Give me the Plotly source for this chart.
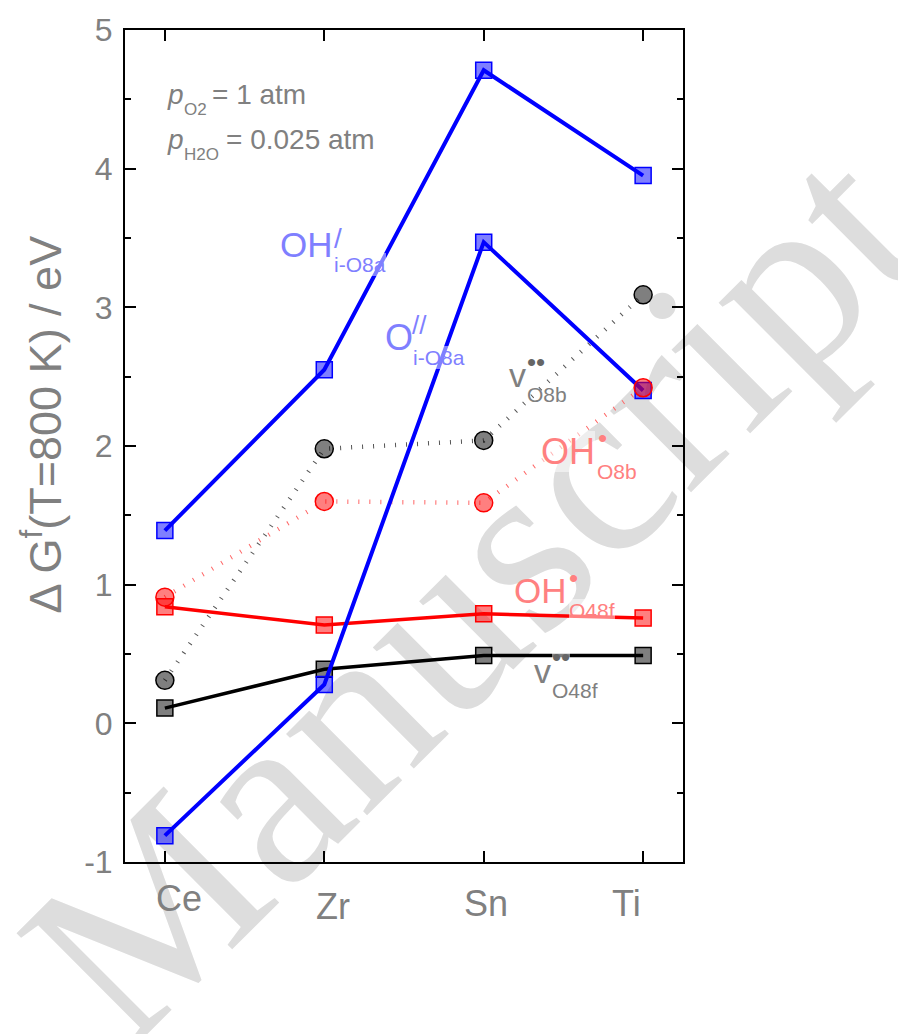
import plotly.graph_objects as go

# ---------------- data ----------------
categories = ["Ce", "Zr", "Sn", "Ti"]
x_pos = [0, 1, 2, 3]

OH_i_O8a = [1.39, 2.55, 4.71, 3.95]      # blue squares, solid
O_i_O8a = [-0.81, 0.28, 3.47, 2.40]      # blue squares, solid
v_O48f = [0.11, 0.39, 0.49, 0.49]        # grey squares, black solid
OH_O48f = [0.84, 0.71, 0.79, 0.76]       # red squares, red solid
v_O8b = [0.31, 1.98, 2.04, 3.09]         # grey circles, dotted
OH_O8b = [0.91, 1.60, 1.59, 2.42]        # red circles, dotted

y_ticks = [-1, 0, 1, 2, 3, 4, 5]
y_ticktext = ["-1", "0", "1", "2", "3", "4", "5"]

# ---------------- layout geometry ----------------
FW, FH = 898, 1034
ML, MR, MT, MB = 125, 215, 27, 172
PW, PH = FW - ML - MR, FH - MT - MB

GREY = "#808080"
BLUE_T = "#7F7FFF"
RED_T = "#FF8080"
SANS = "Liberation Sans, Arial, sans-serif"


def px_x(px):
    return (px - ML) / PW


def px_y(py):
    return (FH - MB - py) / PH


fig = go.Figure()

# dotted series (lines)
fig.add_trace(go.Scatter(
    x=x_pos, y=v_O8b, mode="lines",
    line=dict(color="#555555", width=4.5, dash="1px,10px"),
    showlegend=False, hoverinfo="skip"))
fig.add_trace(go.Scatter(
    x=x_pos, y=OH_O8b, mode="lines",
    line=dict(color="#FF6666", width=4.5, dash="1px,10px"),
    showlegend=False, hoverinfo="skip"))

# solid series
fig.add_trace(go.Scatter(
    x=x_pos, y=v_O48f, mode="lines+markers",
    line=dict(color="black", width=3.5),
    marker=dict(symbol="square", size=16, color="rgba(0,0,0,0.5)",
                line=dict(color="black", width=1.5)),
    showlegend=False))
fig.add_trace(go.Scatter(
    x=x_pos, y=OH_O48f, mode="lines+markers",
    line=dict(color="#FF0000", width=3.5),
    marker=dict(symbol="square", size=16, color="rgba(255,0,0,0.5)",
                line=dict(color="#FF0000", width=1.5)),
    showlegend=False))
fig.add_trace(go.Scatter(
    x=x_pos, y=OH_i_O8a, mode="lines+markers",
    line=dict(color="#0000FF", width=4),
    marker=dict(symbol="square", size=16, color="rgba(0,0,255,0.5)",
                line=dict(color="#0000FF", width=1.5)),
    showlegend=False))
fig.add_trace(go.Scatter(
    x=x_pos, y=O_i_O8a, mode="lines+markers",
    line=dict(color="#0000FF", width=4),
    marker=dict(symbol="square", size=16, color="rgba(0,0,255,0.5)",
                line=dict(color="#0000FF", width=1.5)),
    showlegend=False))

# circle markers of dotted series
fig.add_trace(go.Scatter(
    x=x_pos, y=v_O8b, mode="markers",
    marker=dict(symbol="circle", size=18, color="rgba(0,0,0,0.5)",
                line=dict(color="black", width=1.5)),
    showlegend=False))
fig.add_trace(go.Scatter(
    x=x_pos, y=OH_O8b, mode="markers",
    marker=dict(symbol="circle", size=18, color="rgba(255,0,0,0.5)",
                line=dict(color="#FF0000", width=1.5)),
    showlegend=False))

# ---------------- text pieces ----------------
annotations = []


def label(text, left, baseline, size, color, bg=None):
    d = dict(text=text, xref="paper", yref="paper",
             x=px_x(left), y=px_y(baseline - 0.35 * size),
             xanchor="left", yanchor="middle", showarrow=False,
             font=dict(family=SANS, size=size, color=color),
             borderpad=0, borderwidth=0)
    if bg:
        d["bgcolor"] = bg
    annotations.append(d)


def dot(text, left, center, size, color, bg=None):
    d = dict(text=text, xref="paper", yref="paper",
             x=px_x(left), y=px_y(center),
             xanchor="left", yanchor="middle", showarrow=False,
             font=dict(family=SANS, size=size, color=color),
             borderpad=0, borderwidth=0)
    if bg:
        d["bgcolor"] = bg
    annotations.append(d)


WBG = "rgba(255,255,255,0.5)"

# conditions
label("<i>p</i>", 167, 101.7, 28, GREY)
label("O2", 184, 113, 17, GREY)
label("= 1 atm", 212, 101.7, 28, GREY)
label("<i>p</i>", 167, 146.7, 28, GREY)
label("H2O", 184, 158, 17, GREY)
label("= 0.025 atm", 226, 146.7, 28, GREY)

# OH'_i-O8a
label("OH", 280, 255, 35, BLUE_T)
label("/", 334, 246, 28, BLUE_T)
label("i-O8a", 334, 270, 21, BLUE_T, WBG)

# O''_i-O8a
label("O", 385, 348, 36, BLUE_T)
label("//", 412, 332, 26, BLUE_T)
label("i-O8a", 413, 363, 21, BLUE_T, WBG)

# v_O8b
label("v", 509, 385, 34, GREY)
dot("••", 527, 360, 26, "#666666")
label("O8b", 527, 400, 21, GREY)

# OH_O8b
label("OH", 541, 463, 36, RED_T, WBG)
dot("•", 598, 436, 26, RED_T)
label("O8b", 597, 477, 21, RED_T, WBG)

# OH_O48f
label("OH", 514, 602, 35, RED_T)
dot("•", 569, 577, 26, RED_T)
label("O48f", 569, 617, 21, RED_T, WBG)

# v_O48f
label("v", 534, 682, 34, GREY)
dot("••", 552, 656.5, 26, "#666666", WBG)
label("O48f", 552, 697, 21, GREY)

# category labels
cat_pos = [(156, 911), (316, 919), (464, 916.5), (612, 916.5)]
for name, (lx, by) in zip(categories, cat_pos):
    label(name, lx, by, 36, GREY)

# y-axis title
annotations.append(dict(
    text="\u0394 G<sup>f</sup>(T=800 K) / eV", xref="paper", yref="paper",
    x=px_x(42), y=px_y(423), xanchor="center", yanchor="middle",
    textangle=-90, showarrow=False,
    font=dict(family=SANS, size=45, color=GREY)))

# ---------------- watermark (below everything) ----------------
wm_a = (64, 960)
wm_b = (839, 185)
shapes = [dict(
    type="line", xref="paper", yref="paper", layer="below",
    x0=px_x(wm_a[0]), y0=px_y(wm_a[1]), x1=px_x(wm_b[0]), y1=px_y(wm_b[1]),
    line=dict(color="rgba(0,0,0,0)", width=0),
    label=dict(text="Manuscript", textposition="middle", yanchor="middle",
               font=dict(family="Liberation Serif, Times New Roman, serif",
                         size=250, color="#DDDDDD")))]

axis_common = dict(showline=True, linecolor="black", linewidth=2,
                   mirror="ticks", ticks="inside", ticklen=11, tickwidth=2,
                   tickcolor="black", showgrid=False, zeroline=False)

fig.update_layout(
    width=FW, height=FH,
    margin=dict(l=ML, r=MR, t=MT, b=MB),
    paper_bgcolor="white", plot_bgcolor="rgba(0,0,0,0)",
    xaxis=dict(range=[-0.25, 3.25], tickvals=x_pos, ticktext=categories,
               showticklabels=False, **axis_common),
    yaxis=dict(range=[-1, 5], tickvals=y_ticks, ticktext=y_ticktext,
               tickfont=dict(family=SANS, size=32, color=GREY),
               ticklabelstandoff=4,
               minor=dict(dtick=0.5, tick0=0, ticks="inside", ticklen=6,
                          tickwidth=2, tickcolor="black"),
               **axis_common),
    annotations=annotations,
    shapes=shapes,
    showlegend=False,
)

fig.write_html("out.html")
